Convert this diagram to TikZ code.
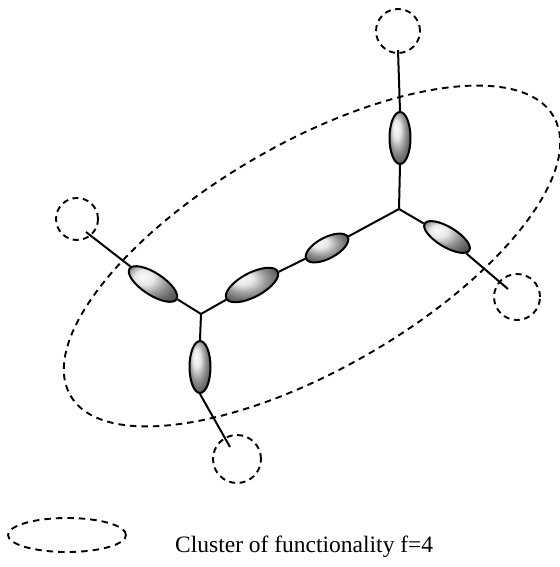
\documentclass[tikz,border=0pt]{standalone}
\usepackage{fontspec}
\setmainfont{Liberation Serif}
\usetikzlibrary{shapes.geometric}
\begin{document}
\begin{tikzpicture}[x=1pt,y=-1pt,
  bead/.style={draw=black, line width=2pt, ellipse, inner sep=0pt, ball color=gray!25},
  endgroup/.style={draw=black, circle, line width=1.9pt, dash pattern=on 6pt off 4.5pt, inner sep=0pt},
  bond/.style={line width=2pt},
  clusterline/.style={draw=black, ellipse, line width=1.9pt, dash pattern=on 6.5pt off 5pt, inner sep=0pt}]
\useasboundingbox (0,0) rectangle (559,567);
% cluster ellipse
\node[clusterline, minimum width=558pt, minimum height=226pt, rotate=30] (cl) at (312,256) {};
% junctions
\coordinate (J1) at (399,209);
\coordinate (J2) at (201,314);
% free ends
\coordinate (t1) at (398,50);
\coordinate (t2) at (508,289);
\coordinate (t3) at (86,232);
\coordinate (t4) at (230,447);
% end groups
\node[endgroup, minimum size=44pt] (c1) at (398,31) {};
\node[endgroup, minimum size=46pt] (c2) at (517,297) {};
\node[endgroup, minimum size=42pt] (c3) at (77,219) {};
\node[endgroup, minimum size=48pt] (c4) at (237,459) {};
% beads
\node[bead, minimum width=21pt, minimum height=52pt] (e1) at (400,138) {};
\node[bead, minimum width=52pt, minimum height=20pt, rotate=-31] (e2) at (447,237) {};
\node[bead, minimum width=47pt, minimum height=21pt, rotate=28] (e3) at (327,248) {};
\node[bead, minimum width=58pt, minimum height=24pt, rotate=28] (e4) at (252,285) {};
\node[bead, minimum width=56pt, minimum height=22pt, rotate=-33] (e5) at (153,284) {};
\node[bead, minimum width=21pt, minimum height=52pt] (e6) at (200,367) {};
% bonds
\draw[bond] (t1) -- (e1.north);
\draw[bond] (e1.south) -- (J1);
\draw[bond] (J1) -- (e2);
\draw[bond] (e2) -- (t2);
\draw[bond] (J1) -- (e3);
\draw[bond] (e3) -- (e4);
\draw[bond] (e4) -- (J2);
\draw[bond] (J2) -- (e5);
\draw[bond] (e5) -- (t3);
\draw[bond] (J2) -- (e6.north);
\draw[bond] (e6.south) -- (t4);
% legend
\node[clusterline, minimum width=118pt, minimum height=34pt] (leg) at (67,535) {};
\node[anchor=base west, inner sep=0pt, font=\fontsize{23.5}{28}\selectfont] (lbl) at (175,552) {Cluster of functionality f=4};
\end{tikzpicture}
\end{document}
